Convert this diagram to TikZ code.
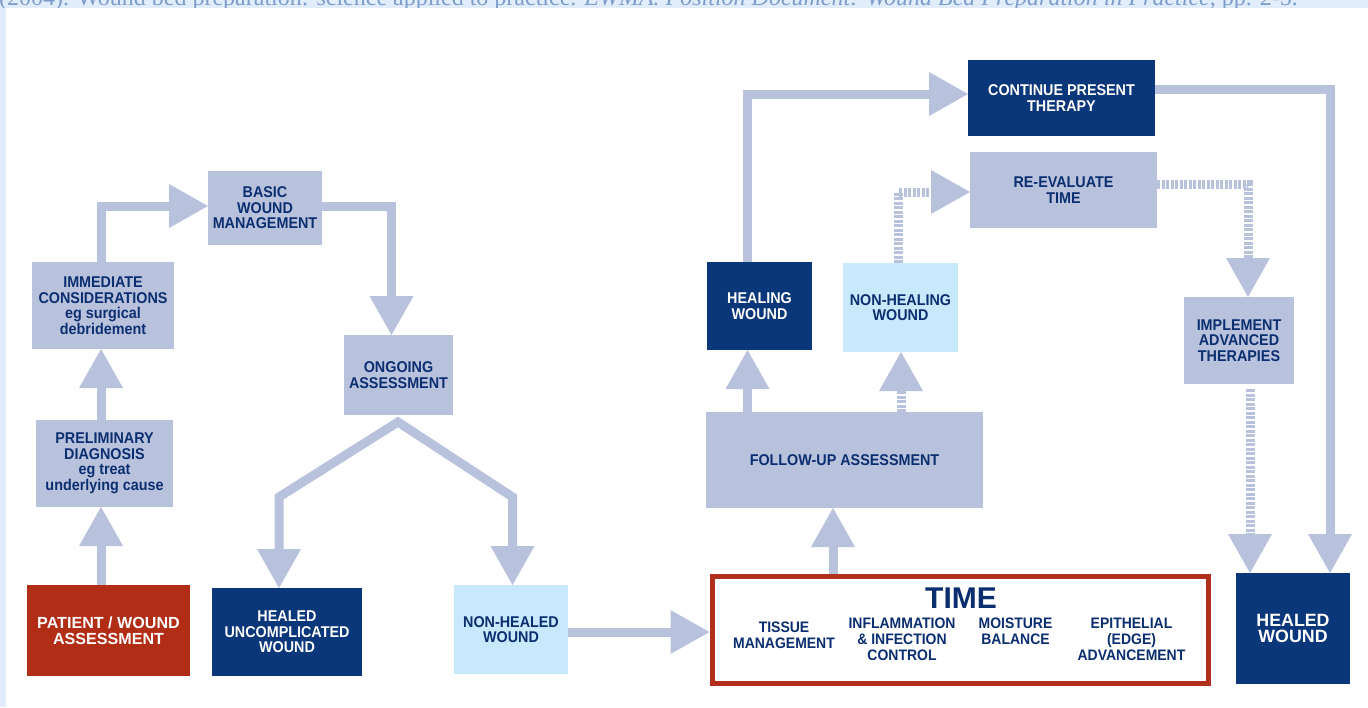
\documentclass[tikz,border=0pt]{standalone}
\usepackage{fontspec}
\usetikzlibrary{arrows.meta}
\newfontfamily\bx{Liberation Sans}[FakeStretch=0.92]
\newfontfamily\bxw{Liberation Sans}
\newfontfamily\citefont{Liberation Serif}
\definecolor{lav}{HTML}{B9C2DC}
\definecolor{navybox}{HTML}{0A367A}
\definecolor{redbox}{HTML}{B12D16}
\definecolor{lightbox}{HTML}{C8E9FB}
\definecolor{txtnavy}{HTML}{0B2E70}
\definecolor{timered}{HTML}{B2301B}
\definecolor{bgstrip}{HTML}{E2EDFB}
\definecolor{citecol}{HTML}{7E9DCB}
\tikzset{
  box/.style={rectangle, inner sep=0pt, outer sep=0pt, anchor=north west, align=center,
    font=\bx\bfseries\fontsize{15.6}{15.5}\selectfont},
  lavbox/.style={box, fill=lav, text=txtnavy},
  navbox/.style={box, fill=navybox, text=white},
  ltbox/.style={box, fill=lightbox, text=txtnavy},
  redbx/.style={box, fill=redbox, text=white, font=\bxw\bfseries\fontsize{16.1}{16}\selectfont},
  timeitem/.style={inner sep=0pt, outer sep=0pt, anchor=base, align=center, text=txtnavy,
    font=\bx\bfseries\fontsize{15.2}{16}\selectfont},
  conn/.style={draw=lav, line width=9pt, line join=miter,
    -{Triangle[width=44pt,length=39pt,line width=0pt]}},
  dconn/.style={conn, dash pattern=on 3pt off 1.5pt},
}
\begin{document}
\begin{tikzpicture}[x=1pt,y=-1pt]
\useasboundingbox (0,0) rectangle (1368,707);
\fill[white] (0,0) rectangle (1368,707);
\fill[bgstrip] (0,0) rectangle (1368,7.5);
\fill[bgstrip] (0,0) rectangle (6,707);
\begin{scope}
\clip (0,0) rectangle (1368,7.5);
\node[inner sep=0pt, anchor=base west, text=citecol, font=\citefont\fontsize{24}{26}\selectfont] (cite) at (-1,5.5)
  {(2004). Wound bed preparation: science applied to practice. \textit{EWMA. Position Document: Wound Bed Preparation in Practice}, pp. 2-5.};
\end{scope}

% boxes
\node[lavbox, minimum width=114pt, minimum height=74pt] (basic) at (208,171) {BASIC\\WOUND\\MANAGEMENT};
\node[lavbox, minimum width=142pt, minimum height=87pt] (immed) at (32,262) {IMMEDIATE\\CONSIDERATIONS\\eg surgical\\debridement};
\node[lavbox, minimum width=137pt, minimum height=87pt] (prelim) at (36,420) {PRELIMINARY\\DIAGNOSIS\\eg treat\\underlying cause};
\node[redbx, minimum width=163pt, minimum height=91pt] (patient) at (27,585) {PATIENT / WOUND\\ASSESSMENT};
\node[navbox, minimum width=150pt, minimum height=88pt] (healedU) at (212,588) {HEALED\\UNCOMPLICATED\\WOUND};
\node[lavbox, minimum width=109pt, minimum height=80pt] (ongoing) at (344,335) {ONGOING\\ASSESSMENT};
\node[ltbox, minimum width=114pt, minimum height=89pt] (nonhealed) at (454,585) {NON-HEALED\\WOUND};
\node[box, draw=timered, line width=5pt, fill=white, minimum width=496.5pt, minimum height=107pt] (time) at (712,576.5) {};
\node[navbox, minimum width=114pt, minimum height=111pt, font=\bxw\bfseries\fontsize{17.8}{16.5}\selectfont] (healed) at (1236,573) {HEALED\\WOUND};
\node[lavbox, minimum width=277pt, minimum height=96pt] (followup) at (706,412) {FOLLOW-UP ASSESSMENT};
\node[navbox, minimum width=105pt, minimum height=88pt] (healing) at (707,262) {HEALING\\WOUND};
\node[ltbox, minimum width=115pt, minimum height=89pt] (nonhealing) at (843,263) {NON-HEALING\\WOUND};
\node[navbox, minimum width=187pt, minimum height=76pt] (continue) at (968,60) {CONTINUE PRESENT\\THERAPY};
\node[lavbox, minimum width=187pt, minimum height=76pt] (reeval) at (970,152) {RE-EVALUATE\\TIME};
\node[lavbox, minimum width=110pt, minimum height=87pt] (implement) at (1184,297) {IMPLEMENT\\ADVANCED\\THERAPIES};

% TIME contents (anchor base = baseline of last line)
\node[timeitem, font=\bxw\bfseries\fontsize{30}{30}\selectfont] (timetitle) at (961,608) {TIME};
\node[timeitem] (tissue) at (784,648) {TISSUE\\MANAGEMENT};
\node[timeitem] (inflam) at (902,660) {INFLAMMATION\\\& INFECTION\\CONTROL};
\node[timeitem] (moist) at (1015.5,644) {MOISTURE\\BALANCE};
\node[timeitem] (epith) at (1131.5,660) {EPITHELIAL\\(EDGE)\\ADVANCEMENT};

% helper coordinates
\coordinate (xA) at (101,0);
\coordinate (yB) at (0,206);
\coordinate (xC) at (391.5,0);
\coordinate (xL) at (279,0);
\coordinate (xR) at (512.5,0);
\coordinate (yBend) at (0,497);
\coordinate (apex) at (398,422);
\coordinate (yT) at (0,632);
\coordinate (xT) at (833,0);
\coordinate (xH) at (747.5,0);
\coordinate (xN) at (901,0);
\coordinate (xN2) at (898,0);
\coordinate (y94) at (0,94);
\coordinate (y192) at (0,192);
\coordinate (y184) at (0,184);
\coordinate (xI) at (1248,0);
\coordinate (xI2) at (1250,0);
\coordinate (y89) at (0,89);
\coordinate (xR2) at (1330,0);

% connectors
\draw[conn] (patient.north -| xA) -- (prelim.south -| xA);
\draw[conn] (prelim.north -| xA) -- (immed.south -| xA);
\draw[conn] (immed.north -| xA) -- (xA |- yB) -- (basic.west |- yB);
\draw[conn] (basic.east |- yB) -- (xC |- yB) -- (ongoing.north -| xC);
\draw[conn, {Triangle[width=44pt,length=39pt,line width=0pt]}-{Triangle[width=44pt,length=39pt,line width=0pt]}]
  (healedU.north -| xL) -- (xL |- yBend) -- (apex) -- (xR |- yBend) -- (nonhealed.north -| xR);
\draw[conn, shorten >=2.5pt] (nonhealed.east |- yT) -- (time.west |- yT);
\draw[conn, shorten <=2.5pt] (time.north -| xT) -- (followup.south -| xT);
\draw[conn] (followup.north -| xH) -- (healing.south -| xH);
\draw[dconn] (followup.north -| xN) -- (nonhealing.south -| xN);
\draw[conn] (healing.north -| xH) -- (xH |- y94) -- (continue.west |- y94);
\draw[dconn] (nonhealing.north -| xN2) -- (xN2 |- y192) -- (reeval.west |- y192);
\draw[dconn] (reeval.east |- y184) -- (xI |- y184) -- (implement.north -| xI);
\draw[dconn, shorten <=5pt] (implement.south -| xI2) -- (healed.north -| xI2);
\draw[conn] (continue.east |- y89) -- (xR2 |- y89) -- (healed.north -| xR2);
\end{tikzpicture}
\end{document}
